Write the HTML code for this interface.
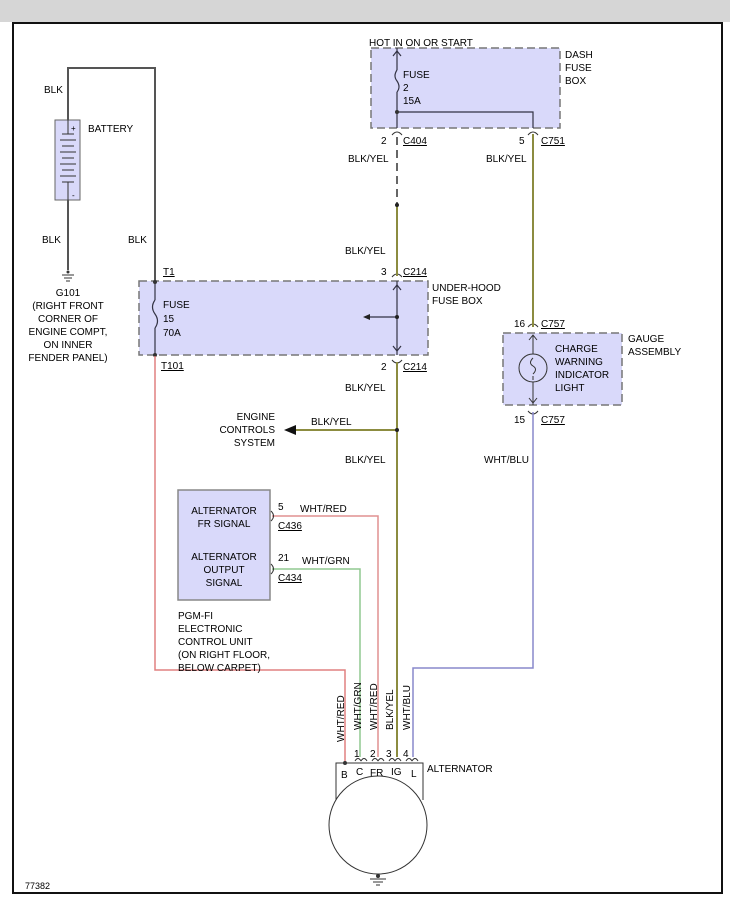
<!DOCTYPE html><html><head><style>body{margin:0;background:#fff}svg{display:block;font-family:"Liberation Sans",sans-serif;font-size:10px}</style></head><body>
<svg width="730" height="900" viewBox="0 0 730 900" xmlns="http://www.w3.org/2000/svg">
<rect x="0" y="0" width="730" height="22" fill="#d6d6d6"/>
<rect x="13" y="23" width="709" height="870" fill="#fff" stroke="#111" stroke-width="2"/>
<g fill="#d9d9fa" stroke="#777" stroke-width="1.5" stroke-dasharray="8,4">
<rect x="371" y="48" width="189" height="80"/>
<rect x="139" y="281" width="289" height="74"/>
<rect x="503" y="333" width="119" height="72"/>
<rect x="178" y="490" width="92" height="110" stroke-dasharray="none" fill="#d9d9fa" stroke="#888"/>
</g>
<!-- battery -->
<rect x="55" y="120" width="25" height="80" fill="#d9d9fa" stroke="#666"/>
<g stroke="#555" stroke-width="2" fill="none">
<polyline points="68,120 68,68 155,68 155,282"/>
<line x1="68" y1="200" x2="68" y2="270"/>
</g>
<g stroke="#333" stroke-width="1">
<line x1="68" y1="120" x2="68" y2="134"/><line x1="62" y1="134" x2="74" y2="134"/><line x1="60" y1="140" x2="76" y2="140"/><line x1="62" y1="146" x2="74" y2="146"/><line x1="60" y1="152" x2="76" y2="152"/><line x1="62" y1="158" x2="74" y2="158"/><line x1="60" y1="164" x2="76" y2="164"/><line x1="62" y1="170" x2="74" y2="170"/><line x1="60" y1="176" x2="76" y2="176"/><line x1="62" y1="182" x2="74" y2="182"/><line x1="68" y1="182" x2="68" y2="200"/>
<line x1="62" y1="275" x2="74" y2="275"/><line x1="64" y1="278" x2="72" y2="278"/><line x1="66" y1="281" x2="70" y2="281"/>
</g>
<text x="71" y="131" font-size="8">+</text><text x="72" y="198" font-size="8">-</text>
<circle cx="68" cy="272" r="1.5" fill="#333"/>
<text x="88" y="132">BATTERY</text>
<text x="44" y="93">BLK</text><text x="42" y="243">BLK</text><text x="128" y="243">BLK</text>
<g text-anchor="middle"><text x="68" y="296">G101</text><text x="68" y="309">(RIGHT FRONT</text><text x="68" y="322">CORNER OF</text><text x="68" y="335">ENGINE COMPT,</text><text x="68" y="348">ON INNER</text><text x="68" y="361">FENDER PANEL)</text></g>
<!-- under-hood fuse -->
<g stroke="#334" stroke-width="1.2" fill="none">
<line x1="155" y1="282" x2="155" y2="300"/><path d="M155,300 q-5,7 0,14 q5,7 0,14"/><line x1="155" y1="328" x2="155" y2="355"/>
<line x1="397" y1="281" x2="397" y2="355"/><line x1="397" y1="317" x2="366" y2="317"/>
<path d="M393,290 l4,-5 l4,5 M393,346 l4,5 l4,-5"/>
</g>
<path d="M363,317 l7,-3 v6 z" fill="#222"/>
<circle cx="155" cy="282" r="2" fill="#333"/><circle cx="155" cy="355" r="2" fill="#333"/><circle cx="397" cy="317" r="2" fill="#222"/>
<text x="163" y="308">FUSE</text><text x="163" y="322">15</text><text x="163" y="336">70A</text>
<text x="163" y="275" text-decoration="underline">T1</text><text x="161" y="369" text-decoration="underline">T101</text>
<text x="432" y="291">UNDER-HOOD</text><text x="432" y="304">FUSE BOX</text>
<!-- dash fuse -->
<g stroke="#334" stroke-width="1.2" fill="none">
<line x1="397" y1="48" x2="397" y2="70"/><path d="M397,70 q-4,6 0,11 q4,6 0,11"/><line x1="397" y1="92" x2="397" y2="128"/>
<polyline points="397,112 533,112 533,128"/><path d="M393,56 l4,-5 l4,5"/>
</g>
<circle cx="397" cy="112" r="2" fill="#333"/>
<text x="369" y="46">HOT IN ON OR START</text>
<text x="403" y="78">FUSE</text><text x="403" y="91">2</text><text x="403" y="104">15A</text>
<text x="565" y="58">DASH</text><text x="565" y="71">FUSE</text><text x="565" y="84">BOX</text>
<!-- connector arcs -->
<g stroke="#333" fill="none" stroke-width="1">
<path d="M392,135 q5,-6 10,0 M528,135 q5,-6 10,0 M392,277 q5,-6 10,0 M392,360 q5,6 10,0 M528,327 q5,-6 10,0 M528,411 q5,6 10,0"/>
<path d="M529,340 l4,-5 l4,5 M529,398 l4,5 l4,-5"/>
</g>
<text x="381" y="144">2</text><text x="403" y="144" text-decoration="underline">C404</text>
<text x="519" y="144">5</text><text x="541" y="144" text-decoration="underline">C751</text>
<text x="381" y="275">3</text><text x="403" y="275" text-decoration="underline">C214</text>
<text x="381" y="370">2</text><text x="403" y="370" text-decoration="underline">C214</text>
<text x="514" y="327">16</text><text x="541" y="327" text-decoration="underline">C757</text>
<text x="514" y="423">15</text><text x="541" y="423" text-decoration="underline">C757</text>
<!-- wires -->
<line x1="397" y1="137" x2="397" y2="205" stroke="#666" stroke-width="2" stroke-dasharray="8,5"/>
<g fill="none" stroke-width="2">
<line x1="397" y1="205" x2="397" y2="276" stroke="#8c8c40"/>
<line x1="397" y1="362" x2="397" y2="757" stroke="#8c8c40"/>
<line x1="533" y1="134" x2="533" y2="327" stroke="#8c8c40"/>
<polyline points="533,412 533,668 413,668 413,757" stroke="#8888cc" stroke-width="1.5"/>
<polyline points="155,356 155,670 345,670 345,762" stroke="#e08080" stroke-width="1.5"/>
<polyline points="272,516 378,516 378,757" stroke="#e09090" stroke-width="1.5"/>
<polyline points="272,569 360,569 360,757" stroke="#90c890" stroke-width="1.5"/>
<line x1="397" y1="430" x2="295" y2="430" stroke="#8c8c40"/>
</g>
<path d="M284,430 l12,-5 v10 z" fill="#111"/>
<circle cx="397" cy="205" r="2" fill="#222"/><circle cx="397" cy="430" r="2" fill="#222"/>
<text x="348" y="162">BLK/YEL</text><text x="486" y="162">BLK/YEL</text><text x="345" y="254">BLK/YEL</text><text x="345" y="391">BLK/YEL</text><text x="345" y="463">BLK/YEL</text><text x="311" y="425">BLK/YEL</text><text x="484" y="463">WHT/BLU</text>
<g text-anchor="end"><text x="275" y="420">ENGINE</text><text x="275" y="433">CONTROLS</text><text x="275" y="446">SYSTEM</text></g>
<!-- gauge -->
<g stroke="#333" fill="none" stroke-width="1">
<line x1="533" y1="335" x2="533" y2="405"/><circle cx="533" cy="368" r="14" fill="#d9d9fa"/><path d="M533,358 q-5,5 0,8 q5,3 0,8 M533,380 v-4"/>
</g>
<text x="555" y="352">CHARGE</text><text x="555" y="365">WARNING</text><text x="555" y="378">INDICATOR</text><text x="555" y="391">LIGHT</text>
<text x="628" y="342">GAUGE</text><text x="628" y="355">ASSEMBLY</text>
<!-- PCM -->
<g text-anchor="middle"><text x="224" y="514">ALTERNATOR</text><text x="224" y="527">FR SIGNAL</text><text x="224" y="560">ALTERNATOR</text><text x="224" y="573">OUTPUT</text><text x="224" y="586">SIGNAL</text></g>
<g stroke="#333" fill="none"><path d="M271,511 q5,5 0,10 M271,564 q5,5 0,10"/></g>
<text x="278" y="510">5</text><text x="300" y="512">WHT/RED</text><text x="278" y="529" text-decoration="underline">C436</text>
<text x="278" y="561">21</text><text x="302" y="564">WHT/GRN</text><text x="278" y="581" text-decoration="underline">C434</text>
<text x="178" y="619">PGM-FI</text><text x="178" y="632">ELECTRONIC</text><text x="178" y="645">CONTROL UNIT</text><text x="178" y="658">(ON RIGHT FLOOR,</text><text x="178" y="671">BELOW CARPET)</text>
<!-- vertical labels -->
<g font-size="10">
<text transform="translate(344,742) rotate(-90)">WHT/RED</text>
<text transform="translate(361,730) rotate(-90)">WHT/GRN</text>
<text transform="translate(377,730) rotate(-90)">WHT/RED</text>
<text transform="translate(393,730) rotate(-90)">BLK/YEL</text>
<text transform="translate(410,730) rotate(-90)">WHT/BLU</text>
</g>
<!-- alternator -->
<g stroke="#333" fill="none" stroke-width="1">
<path d="M336,800 V763 H423 V800"/>
<circle cx="378" cy="825" r="49" fill="#fff"/>
<path d="M355,761 q3,-5 6,0 M372,761 q3,-5 6,0 M389,761 q3,-5 6,0 M406,761 q3,-5 6,0 M361,761 q3,-5 6,0 M378,761 q3,-5 6,0 M395,761 q3,-5 6,0 M412,761 q3,-5 6,0"/>
<line x1="370" y1="879" x2="386" y2="879"/><line x1="373" y1="882" x2="383" y2="882"/><line x1="376" y1="885" x2="380" y2="885"/>
</g>
<circle cx="345" cy="763" r="2" fill="#333"/><circle cx="378" cy="876" r="2" fill="#333"/>
<text x="354" y="757">1</text><text x="370" y="757">2</text><text x="386" y="757">3</text><text x="403" y="757">4</text>
<text x="341" y="778">B</text><text x="356" y="775">C</text><text x="370" y="776">FR</text><text x="391" y="775">IG</text><text x="411" y="777">L</text>
<text x="427" y="772">ALTERNATOR</text>
<text x="25" y="889" font-size="9">77382</text>
</svg></body></html>
